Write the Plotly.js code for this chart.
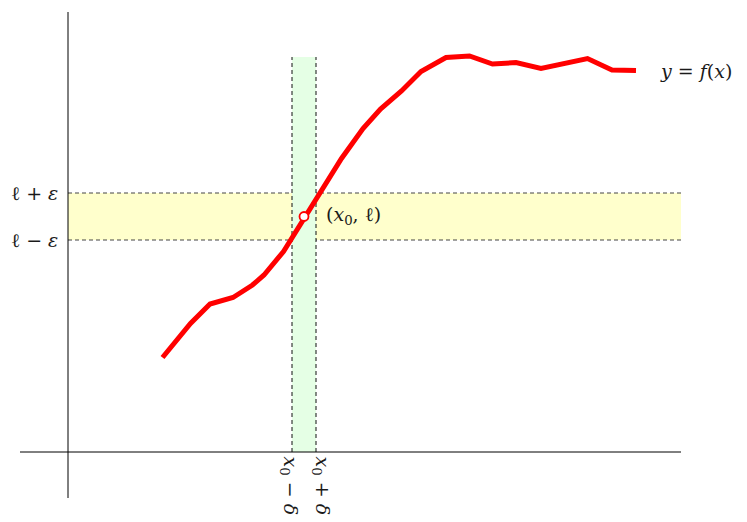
<!DOCTYPE html>
<html>
<head>
<meta charset="utf-8">
<script src="https://cdn.plot.ly/plotly-3.0.1.min.js"></script>
<style>html,body{margin:0;padding:0;background:#fff;}#chart{width:747px;height:522px;}</style>
</head>
<body>
<div id="chart"></div>
<script>
// curve samples y = f(x)
var curveX = [1.89, 2.45, 2.84, 3.30, 3.69, 3.92, 4.31, 4.73, 5.01, 5.47, 5.90, 6.25, 6.67, 7.06, 7.56, 8.03, 8.49, 8.96, 9.46, 9.93, 10.39, 10.88, 11.36];
var curveY = [1.89, 2.57, 2.96, 3.09, 3.34, 3.54, 4.01, 4.69, 5.17, 5.87, 6.47, 6.86, 7.22, 7.61, 7.89, 7.92, 7.76, 7.79, 7.67, 7.76, 7.87, 7.64, 7.63];
// limit point and neighbourhoods
var x0 = 4.72, ell = 4.71, eps = 0.47, delta = 0.24;
// axis extents
var xAxisSpan = [-0.96, 12.26];
var yAxisSpan = [-0.92, 8.8];
var greenTop = 7.9;
var bandRight = 12.26;
// labels
var yTickLabels = ["ℓ + <i>ε</i>", "ℓ − <i>ε</i>"];
var xTickLabels = ["<i>x</i><sub>0</sub> − <i>δ</i>", "<i>x</i><sub>0</sub> + <i>δ</i>"];
var pointLabel = "(<i>x</i><sub>0</sub>, ℓ)";
var curveLabel = "<i>y</i> = <i>f</i>(<i>x</i>)";

var serif = "DejaVu Serif, Liberation Serif, serif";

var traces = [
  {x: xAxisSpan, y: [0, 0], mode: 'lines', line: {color: '#000', width: 1}, hoverinfo: 'skip'},
  {x: [0, 0], y: yAxisSpan, mode: 'lines', line: {color: '#000', width: 1}, hoverinfo: 'skip'},
  {x: curveX, y: curveY, mode: 'lines', line: {color: '#ff0000', width: 5, shape: 'linear'}, hoverinfo: 'skip'},
  {x: [x0], y: [ell], mode: 'markers', marker: {size: 9, color: '#ffffff', line: {color: '#ff0000', width: 1.8}}, hoverinfo: 'skip'}
];

var shapes = [
  {type: 'rect', xref: 'x', yref: 'y', x0: 0, x1: bandRight, y0: ell - eps, y1: ell + eps, fillcolor: '#ffffcc', line: {width: 0}, layer: 'below'},
  {type: 'line', xref: 'x', yref: 'y', x0: 0, x1: bandRight, y0: ell + eps, y1: ell + eps, line: {color: '#444', width: 1, dash: '4px,3px'}, layer: 'below'},
  {type: 'line', xref: 'x', yref: 'y', x0: 0, x1: bandRight, y0: ell - eps, y1: ell - eps, line: {color: '#444', width: 1, dash: '4px,3px'}, layer: 'below'},
  {type: 'rect', xref: 'x', yref: 'y', x0: x0 - delta, x1: x0 + delta, y0: 0, y1: greenTop, fillcolor: '#e5ffe5', line: {width: 0}, layer: 'below'},
  {type: 'line', xref: 'x', yref: 'y', x0: x0 - delta, x1: x0 - delta, y0: 0, y1: greenTop, line: {color: '#111', width: 1, dash: '4px,3px'}, layer: 'below'},
  {type: 'line', xref: 'x', yref: 'y', x0: x0 + delta, x1: x0 + delta, y0: 0, y1: greenTop, line: {color: '#111', width: 1, dash: '4px,3px'}, layer: 'below'}
];

var annFont = {family: serif, size: 19, color: '#1a1a1a'};
var annotations = [
  {x: -0.16, y: ell + eps, xref: 'x', yref: 'y', text: yTickLabels[0], showarrow: false, xanchor: 'right', yanchor: 'middle', font: annFont},
  {x: -0.16, y: ell - eps, xref: 'x', yref: 'y', text: yTickLabels[1], showarrow: false, xanchor: 'right', yanchor: 'middle', font: annFont},
  {x: x0 - delta - 0.06, y: -0.04, xref: 'x', yref: 'y', text: xTickLabels[0], showarrow: false, textangle: 90, xanchor: 'center', yanchor: 'top', font: annFont},
  {x: x0 + delta + 0.1, y: -0.04, xref: 'x', yref: 'y', text: xTickLabels[1], showarrow: false, textangle: 90, xanchor: 'center', yanchor: 'top', font: annFont},
  {x: x0 + 0.4, y: ell + 0.03, xref: 'x', yref: 'y', text: pointLabel, showarrow: false, xanchor: 'left', yanchor: 'middle', font: annFont},
  {x: 11.8, y: 7.63, xref: 'x', yref: 'y', text: curveLabel, showarrow: false, xanchor: 'left', yanchor: 'middle', font: annFont}
];

var layout = {
  width: 747, height: 522,
  margin: {l: 0, r: 0, t: 0, b: 0},
  paper_bgcolor: '#fff', plot_bgcolor: '#fff',
  showlegend: false,
  xaxis: {range: [-1.36, 13.58], visible: false, fixedrange: true},
  yaxis: {range: [-1.4, 9.04], visible: false, fixedrange: true},
  shapes: shapes,
  annotations: annotations
};

Plotly.newPlot('chart', traces, layout, {displayModeBar: false});
</script>
</body>
</html>
